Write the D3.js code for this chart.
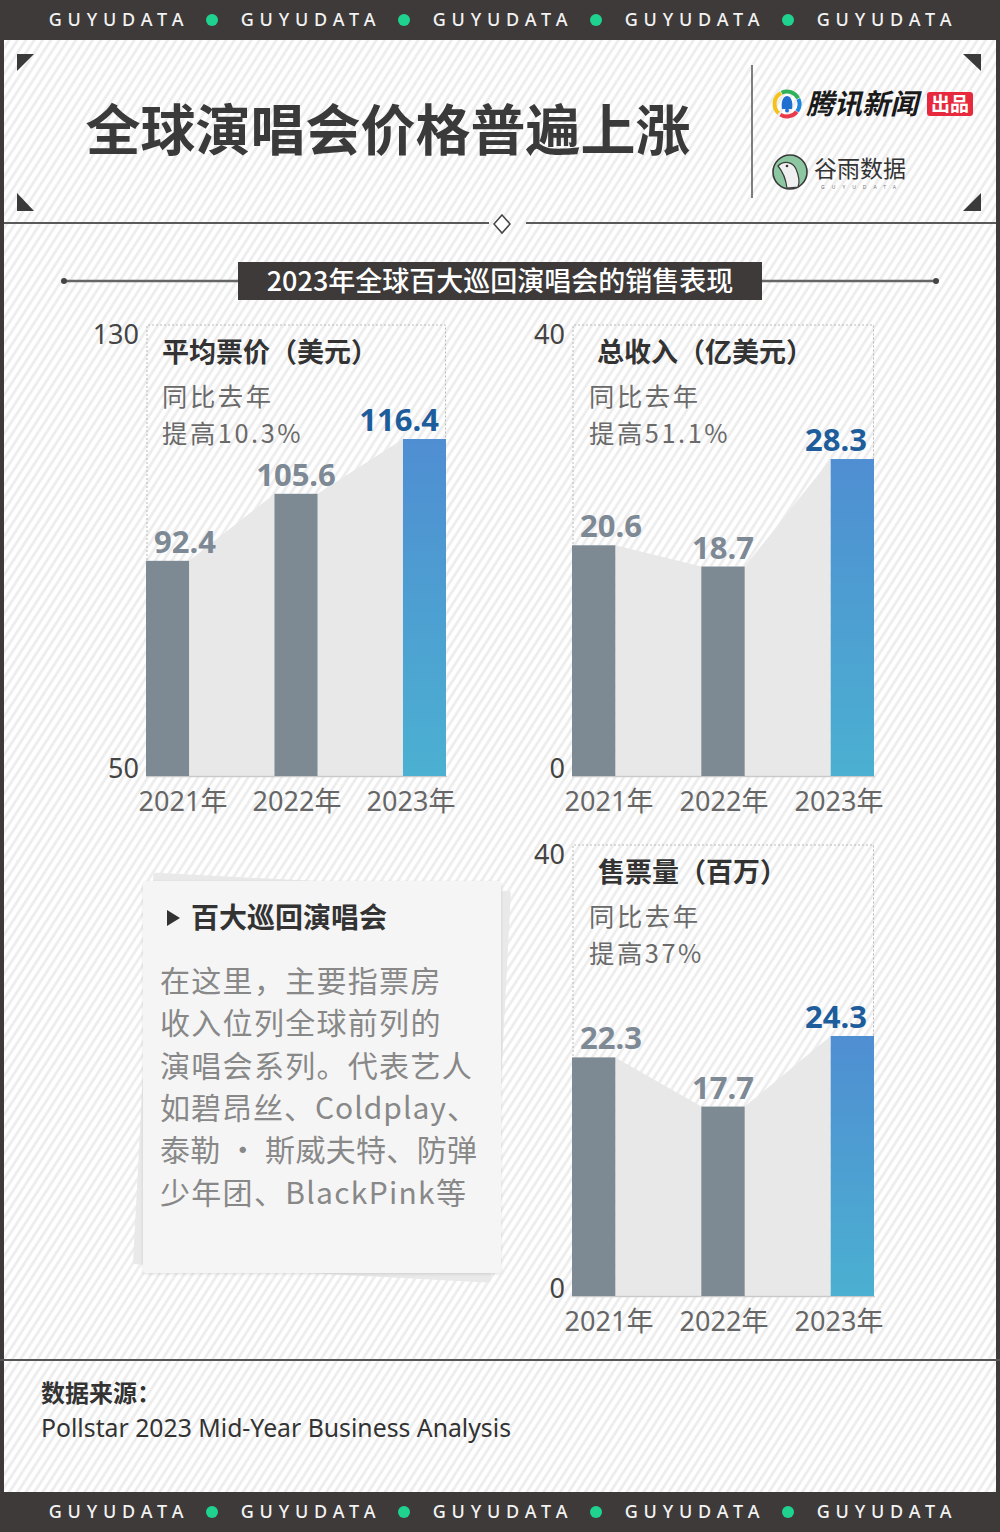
<!DOCTYPE html>
<html>
<head>
<meta charset="utf-8">
<script src="https://cdn.jsdelivr.net/npm/d3@7"></script>
<style>
  html, body { margin: 0; padding: 0; background: #fff; }
  svg { display: block; }
</style>
</head>
<body>
<script>
// ---------------- DATA ----------------
const years = ["2021年", "2022年", "2023年"];
const avgPrice = [92.4, 105.6, 116.4];      // 平均票价（美元）
const revenue = [20.6, 18.7, 28.3];         // 总收入（亿美元）
const tickets = [22.3, 17.7, 24.3];         // 售票量（百万）
const priceTicks = [50, 130];
const revenueTicks = [0, 40];
const ticketTicks = [0, 40];
const chartTitles = ["平均票价（美元）", "总收入（亿美元）", "售票量（百万）"];
const chartNotes = [["同比去年", "提高10.3%"], ["同比去年", "提高51.1%"], ["同比去年", "提高37%"]];
const mainTitle = "全球演唱会价格普遍上涨";
const subTitle = "2023年全球百大巡回演唱会的销售表现";
const noteTitle = "百大巡回演唱会";
const noteLines = ["在这里，主要指票房", "收入位列全球前列的", "演唱会系列。代表艺人", "如碧昂丝、Coldplay、", "泰勒 · 斯威夫特、防弹", "少年团、BlackPink等"];
const sourceLabel = "数据来源：";
const sourceText = "Pollstar 2023 Mid-Year Business Analysis";
const brandWord = "GUYUDATA";

// ---------------- STYLE ----------------
const W = 1000, H = 1532;
const DARK = "#3d3a39";
const GRAY_BAR = "#7e8a93";
const AREA = "#e8e8e8";
const LABEL_GRAY = "#7d8994";
const LABEL_BLUE = "#1d5d9b";
const CJK = "'Noto Sans CJK SC', 'Noto Sans', sans-serif";
const NUM = "'Noto Sans', 'Noto Sans CJK SC', sans-serif";

const svg = d3.select("body").append("svg").attr("width", W).attr("height", H);
const defs = svg.append("defs");

const pat = defs.append("pattern").attr("id", "stripes").attr("patternUnits", "userSpaceOnUse")
  .attr("width", 7).attr("height", 7).attr("patternTransform", "rotate(33)");
pat.append("rect").attr("width", 7).attr("height", 7).attr("fill", "#ffffff");
pat.append("line").attr("x1", 1.5).attr("y1", 0).attr("x2", 1.5).attr("y2", 7)
  .attr("stroke", "#ececec").attr("stroke-width", 2.6);

const grad = defs.append("linearGradient").attr("id", "blueGrad")
  .attr("x1", 0).attr("y1", 0).attr("x2", 0).attr("y2", 1);
grad.append("stop").attr("offset", "0%").attr("stop-color", "#4f8ed2");
grad.append("stop").attr("offset", "100%").attr("stop-color", "#4bb0d1");

const shadow = defs.append("filter").attr("id", "soft").attr("x", "-10%").attr("y", "-10%").attr("width", "120%").attr("height", "120%");
shadow.append("feDropShadow").attr("dx", 0).attr("dy", 1).attr("stdDeviation", 1.5).attr("flood-color", "#000").attr("flood-opacity", 0.12);

// background
svg.append("rect").attr("width", W).attr("height", H).attr("fill", "url(#stripes)");

// ---------------- BANDS ----------------
function band(y0, h) {
  svg.append("rect").attr("x", 0).attr("y", y0).attr("width", W).attr("height", h).attr("fill", DARK);
  const cx = d3.scalePoint().domain(d3.range(5)).range([116, 884]);
  const cy = y0 + h / 2;
  svg.append("g").selectAll("text").data(d3.range(5)).join("text")
    .attr("x", d => cx(d) + 3).attr("y", cy).attr("dy", "0.36em")
    .attr("text-anchor", "middle").attr("font-family", NUM).attr("font-size", 18)
    .attr("font-weight", 500).attr("letter-spacing", 5.8).attr("fill", "#f2f2f2")
    .text(brandWord);
  svg.append("g").selectAll("circle").data(d3.range(4)).join("circle")
    .attr("cx", d => (cx(d) + cx(d + 1)) / 2).attr("cy", cy).attr("r", 6)
    .attr("fill", "#1fd38e");
}
band(0, 40);
band(1492, 40);
// side borders
svg.append("rect").attr("x", 0).attr("y", 40).attr("width", 4).attr("height", 1452).attr("fill", DARK);
svg.append("rect").attr("x", 996).attr("y", 40).attr("width", 4).attr("height", 1452).attr("fill", DARK);

// ---------------- HEADER ----------------
const tri = [
  [[17, 54], [34, 54], [17, 71]],
  [[963, 54], [981, 54], [981, 71]],
  [[17, 193], [17, 211], [34, 211]],
  [[981, 193], [981, 211], [963, 211]]
];
svg.append("g").selectAll("path").data(tri).join("path")
  .attr("d", d => "M" + d.join("L") + "Z").attr("fill", "#3a3a3a");

svg.append("text").attr("x", 388).attr("y", 130).attr("dy", "0.36em")
  .attr("text-anchor", "middle").attr("font-family", CJK).attr("font-weight", 700)
  .attr("font-size", 55).attr("fill", "#3a3a3a").text(mainTitle);

svg.append("line").attr("x1", 752).attr("x2", 752).attr("y1", 65).attr("y2", 198)
  .attr("stroke", "#555").attr("stroke-width", 1.5);

// separator line with diamond
svg.append("line").attr("x1", 4).attr("x2", 489).attr("y1", 223).attr("y2", 223).attr("stroke", "#5a5a5a").attr("stroke-width", 2);
svg.append("line").attr("x1", 526).attr("x2", 996).attr("y1", 223).attr("y2", 223).attr("stroke", "#5a5a5a").attr("stroke-width", 2);
svg.append("path").attr("d", "M502,215 L510,224 L502,233 L494,224 Z")
  .attr("fill", "#fff").attr("stroke", "#444").attr("stroke-width", 1.5);

// Tencent News logo
(function () {
  const g = svg.append("g").attr("transform", "translate(787,104)");
  const arc = d3.arc().innerRadius(10.5).outerRadius(14.5);
  const segs = [
    { a0: -2.4, a1: -0.5, c: "#f4c21b" },
    { a0: -0.45, a1: 1.1, c: "#31b25a" },
    { a0: 1.15, a1: 2.2, c: "#1f86e0" },
    { a0: 2.25, a1: 3.7, c: "#ea3a4a" }
  ];
  g.selectAll("path.seg").data(segs).join("path").attr("class", "seg")
    .attr("d", d => arc({ startAngle: d.a0, endAngle: d.a1 })).attr("fill", d => d.c);
  g.append("path").attr("d", "M-5,5 C-6,-1 -5,-7 0,-8 C5,-7 6,-1 5,5 Z").attr("fill", "#1f6fd0");
  g.append("circle").attr("cx", 0).attr("cy", 6.5).attr("r", 2).attr("fill", "#1f6fd0");
  svg.append("text").attr("x", 806).attr("y", 104).attr("dy", "0.36em")
    .attr("font-family", CJK).attr("font-weight", 700).attr("font-style", "italic")
    .attr("font-size", 28).attr("fill", "#1a1a1a").text("腾讯新闻");
  svg.append("rect").attr("x", 927).attr("y", 92).attr("width", 46).attr("height", 24).attr("rx", 3).attr("fill", "#e8283c");
  svg.append("text").attr("x", 950).attr("y", 104).attr("dy", "0.36em").attr("text-anchor", "middle")
    .attr("font-family", CJK).attr("font-weight", 700).attr("font-size", 19).attr("fill", "#fff").text("出品");
})();

// Guyu logo
(function () {
  const g = svg.append("g").attr("transform", "translate(790,172)");
  g.append("circle").attr("r", 17).attr("fill", "#8dc7a1").attr("stroke", "#3a3a3a").attr("stroke-width", 1.6);
  g.append("path").attr("d", "M-12,-6 C-6,-12 3,-10 6,-3 C9,4 10,10 8,15 L-3,16 C-4,8 -7,0 -12,-6 Z")
    .attr("fill", "#f0f0f0").attr("stroke", "#3a3a3a").attr("stroke-width", 1.2);
  g.append("circle").attr("cx", -3).attr("cy", -6).attr("r", 1.3).attr("fill", "#333");
  svg.append("text").attr("x", 814).attr("y", 169).attr("dy", "0.36em")
    .attr("font-family", CJK).attr("font-weight", 400).attr("font-size", 23).attr("fill", "#333").text("谷雨数据");
  svg.append("text").attr("x", 862).attr("y", 187).attr("dy", "0.36em").attr("text-anchor", "middle")
    .attr("font-family", NUM).attr("font-size", 5).attr("letter-spacing", 7).attr("fill", "#777").text(brandWord);
})();

// ---------------- SUBTITLE ----------------
svg.append("line").attr("x1", 64).attr("x2", 936).attr("y1", 281).attr("y2", 281).attr("stroke", "#666").attr("stroke-width", 2.5);
svg.append("g").selectAll("circle").data([64, 936]).join("circle")
  .attr("cx", d => d).attr("cy", 281).attr("r", 3).attr("fill", "#444");
svg.append("rect").attr("x", 238).attr("y", 262).attr("width", 524).attr("height", 38).attr("fill", DARK);
svg.append("text").attr("x", 500).attr("y", 281).attr("dy", "0.36em").attr("text-anchor", "middle")
  .attr("font-family", CJK).attr("font-weight", 500).attr("font-size", 27).attr("fill", "#fff").text(subTitle);

// ---------------- CHARTS ----------------
function drawChart(cfg) {
  const g = svg.append("g");
  const x = d3.scaleBand().domain(years).range(cfg.xr).paddingInner(0.665).paddingOuter(0);
  const y = d3.scaleLinear().domain(cfg.domain).range([cfg.base, cfg.scaleTop]);
  const bw = x.bandwidth();

  // dashed frame
  g.append("path")
    .attr("d", `M${cfg.xr[0] + 1},${cfg.base} V${cfg.frameTop} H${cfg.xr[1] - 0.5} V${cfg.base}`)
    .attr("fill", "none").attr("stroke", "#b9b9b9").attr("stroke-width", 1).attr("stroke-dasharray", "2,2");

  // area connecting bar tops
  const pts = [];
  cfg.values.forEach((v, i) => {
    if (i > 0) pts.push([x(years[i]), v]);
    if (i < cfg.values.length - 1) pts.push([x(years[i]) + bw, v]);
  });
  const area = d3.area().x(d => d[0]).y0(cfg.base).y1(d => y(d[1]));
  g.append("path").datum(pts).attr("d", area).attr("fill", AREA);

  // baseline
  g.append("line").attr("x1", cfg.xr[0]).attr("x2", cfg.xr[1] + 1).attr("y1", cfg.base + 0.5).attr("y2", cfg.base + 0.5)
    .attr("stroke", "#c9c9c9").attr("stroke-width", 1.5);

  // bars
  g.selectAll("rect.bar").data(cfg.values).join("rect").attr("class", "bar")
    .attr("x", (d, i) => x(years[i])).attr("width", bw)
    .attr("y", d => y(d)).attr("height", d => cfg.base - y(d))
    .attr("fill", (d, i) => i === years.length - 1 ? "url(#blueGrad)" : GRAY_BAR);

  // value labels
  g.selectAll("text.val").data(cfg.values).join("text").attr("class", "val")
    .attr("x", (d, i) => i === 0 ? x(years[i]) + 8 : i === 1 ? x(years[i]) + bw / 2 : x(years[i]) + bw - 7)
    .attr("y", d => y(d) - 8)
    .attr("text-anchor", (d, i) => i === 0 ? "start" : i === 1 ? "middle" : "end")
    .attr("font-family", NUM).attr("font-weight", 700).attr("font-size", 31)
    .attr("fill", (d, i) => i === years.length - 1 ? LABEL_BLUE : LABEL_GRAY)
    .text(d => d);

  // tick labels (at frame ends)
  const tickPos = d3.scaleLinear().domain(cfg.domain).range([cfg.base - 8, cfg.frameTop + 9]);
  g.selectAll("text.tick").data(cfg.ticks).join("text").attr("class", "tick")
    .attr("x", cfg.xr[0] - 7).attr("y", d => tickPos(d)).attr("dy", "0.36em")
    .attr("text-anchor", "end").attr("font-family", NUM).attr("font-weight", 400)
    .attr("font-size", 27).attr("fill", "#444").text(d => d);

  // x labels
  const xl = d3.scalePoint().domain(years).range([cfg.xr[0] + 37, cfg.xr[1] - 35]);
  g.selectAll("text.xl").data(years).join("text").attr("class", "xl")
    .attr("x", d => xl(d)).attr("y", cfg.base + 25).attr("dy", "0.36em")
    .attr("text-anchor", "middle").attr("font-family", NUM).attr("font-weight", 400)
    .attr("font-size", 27).attr("fill", "#666").text(d => d);

  // title and notes
  g.append("text").attr("x", cfg.xr[0] + cfg.titleDx).attr("y", cfg.frameTop + 27).attr("dy", "0.36em")
    .attr("font-family", CJK).attr("font-weight", 700).attr("font-size", 27).attr("fill", "#333")
    .text(cfg.title);
  g.selectAll("text.note").data(cfg.notes).join("text").attr("class", "note")
    .attr("x", cfg.xr[0] + cfg.noteDx).attr("y", (d, i) => cfg.frameTop + 72 + i * 37).attr("dy", "0.36em")
    .attr("font-family", CJK).attr("font-weight", 400).attr("font-size", 25.3)
    .attr("letter-spacing", 2.6).attr("fill", "#6a6a6a")
    .text(d => d);
}

drawChart({ values: avgPrice, domain: [50, 130], ticks: priceTicks, xr: [146, 446], base: 776, frameTop: 325, scaleTop: 370,
  title: chartTitles[0], notes: chartNotes[0], titleDx: 16, noteDx: 16 });
drawChart({ values: revenue, domain: [0, 40], ticks: revenueTicks, xr: [572, 874], base: 776, frameTop: 325, scaleTop: 328,
  title: chartTitles[1], notes: chartNotes[1], titleDx: 25, noteDx: 17 });
drawChart({ values: tickets, domain: [0, 40], ticks: ticketTicks, xr: [572, 874], base: 1296, frameTop: 845, scaleTop: 868,
  title: chartTitles[2], notes: chartNotes[2], titleDx: 26, noteDx: 17 });

// ---------------- NOTE CARD ----------------
(function () {
  const cx = 322, cy = 1077, w = 358, h = 392;
  svg.append("rect").attr("x", cx - w / 2).attr("y", cy - h / 2).attr("width", w).attr("height", h)
    .attr("rx", 3).attr("fill", "#e9e9e9")
    .attr("transform", `rotate(3 ${cx - 12} ${cy})`);
  svg.append("rect").attr("x", 143).attr("y", 881).attr("width", 358).attr("height", 392)
    .attr("rx", 3).attr("fill", "#f5f5f5").attr("filter", "url(#soft)");
  svg.append("path").attr("d", "M167,910 L180,918 L167,926 Z").attr("fill", "#333");
  svg.append("text").attr("x", 191).attr("y", 918).attr("dy", "0.36em")
    .attr("font-family", CJK).attr("font-weight", 700).attr("font-size", 28).attr("fill", "#333").text(noteTitle);
  svg.append("g").selectAll("text").data(noteLines).join("text")
    .attr("x", 160).attr("y", (d, i) => 981 + i * 42.4).attr("dy", "0.36em")
    .attr("font-family", CJK).attr("font-weight", 400).attr("font-size", 30)
    .attr("letter-spacing", 1.3).attr("fill", "#888").text(d => d)
    .each(function () {
      if (this.getComputedTextLength() > 318) {
        d3.select(this).attr("textLength", 317).attr("lengthAdjust", "spacing").attr("letter-spacing", 0);
      }
    });
})();

// ---------------- FOOTER ----------------
svg.append("line").attr("x1", 0).attr("x2", W).attr("y1", 1360).attr("y2", 1360).attr("stroke", "#555").attr("stroke-width", 2);
svg.append("text").attr("x", 41).attr("y", 1393).attr("dy", "0.36em")
  .attr("font-family", CJK).attr("font-weight", 700).attr("font-size", 24).attr("fill", "#333").text(sourceLabel);
svg.append("text").attr("x", 41).attr("y", 1428).attr("dy", "0.36em")
  .attr("font-family", NUM).attr("font-weight", 400).attr("font-size", 25).attr("fill", "#333")
  .attr("textLength", 470).attr("lengthAdjust", "spacingAndGlyphs").text(sourceText);
</script>
</body>
</html>
